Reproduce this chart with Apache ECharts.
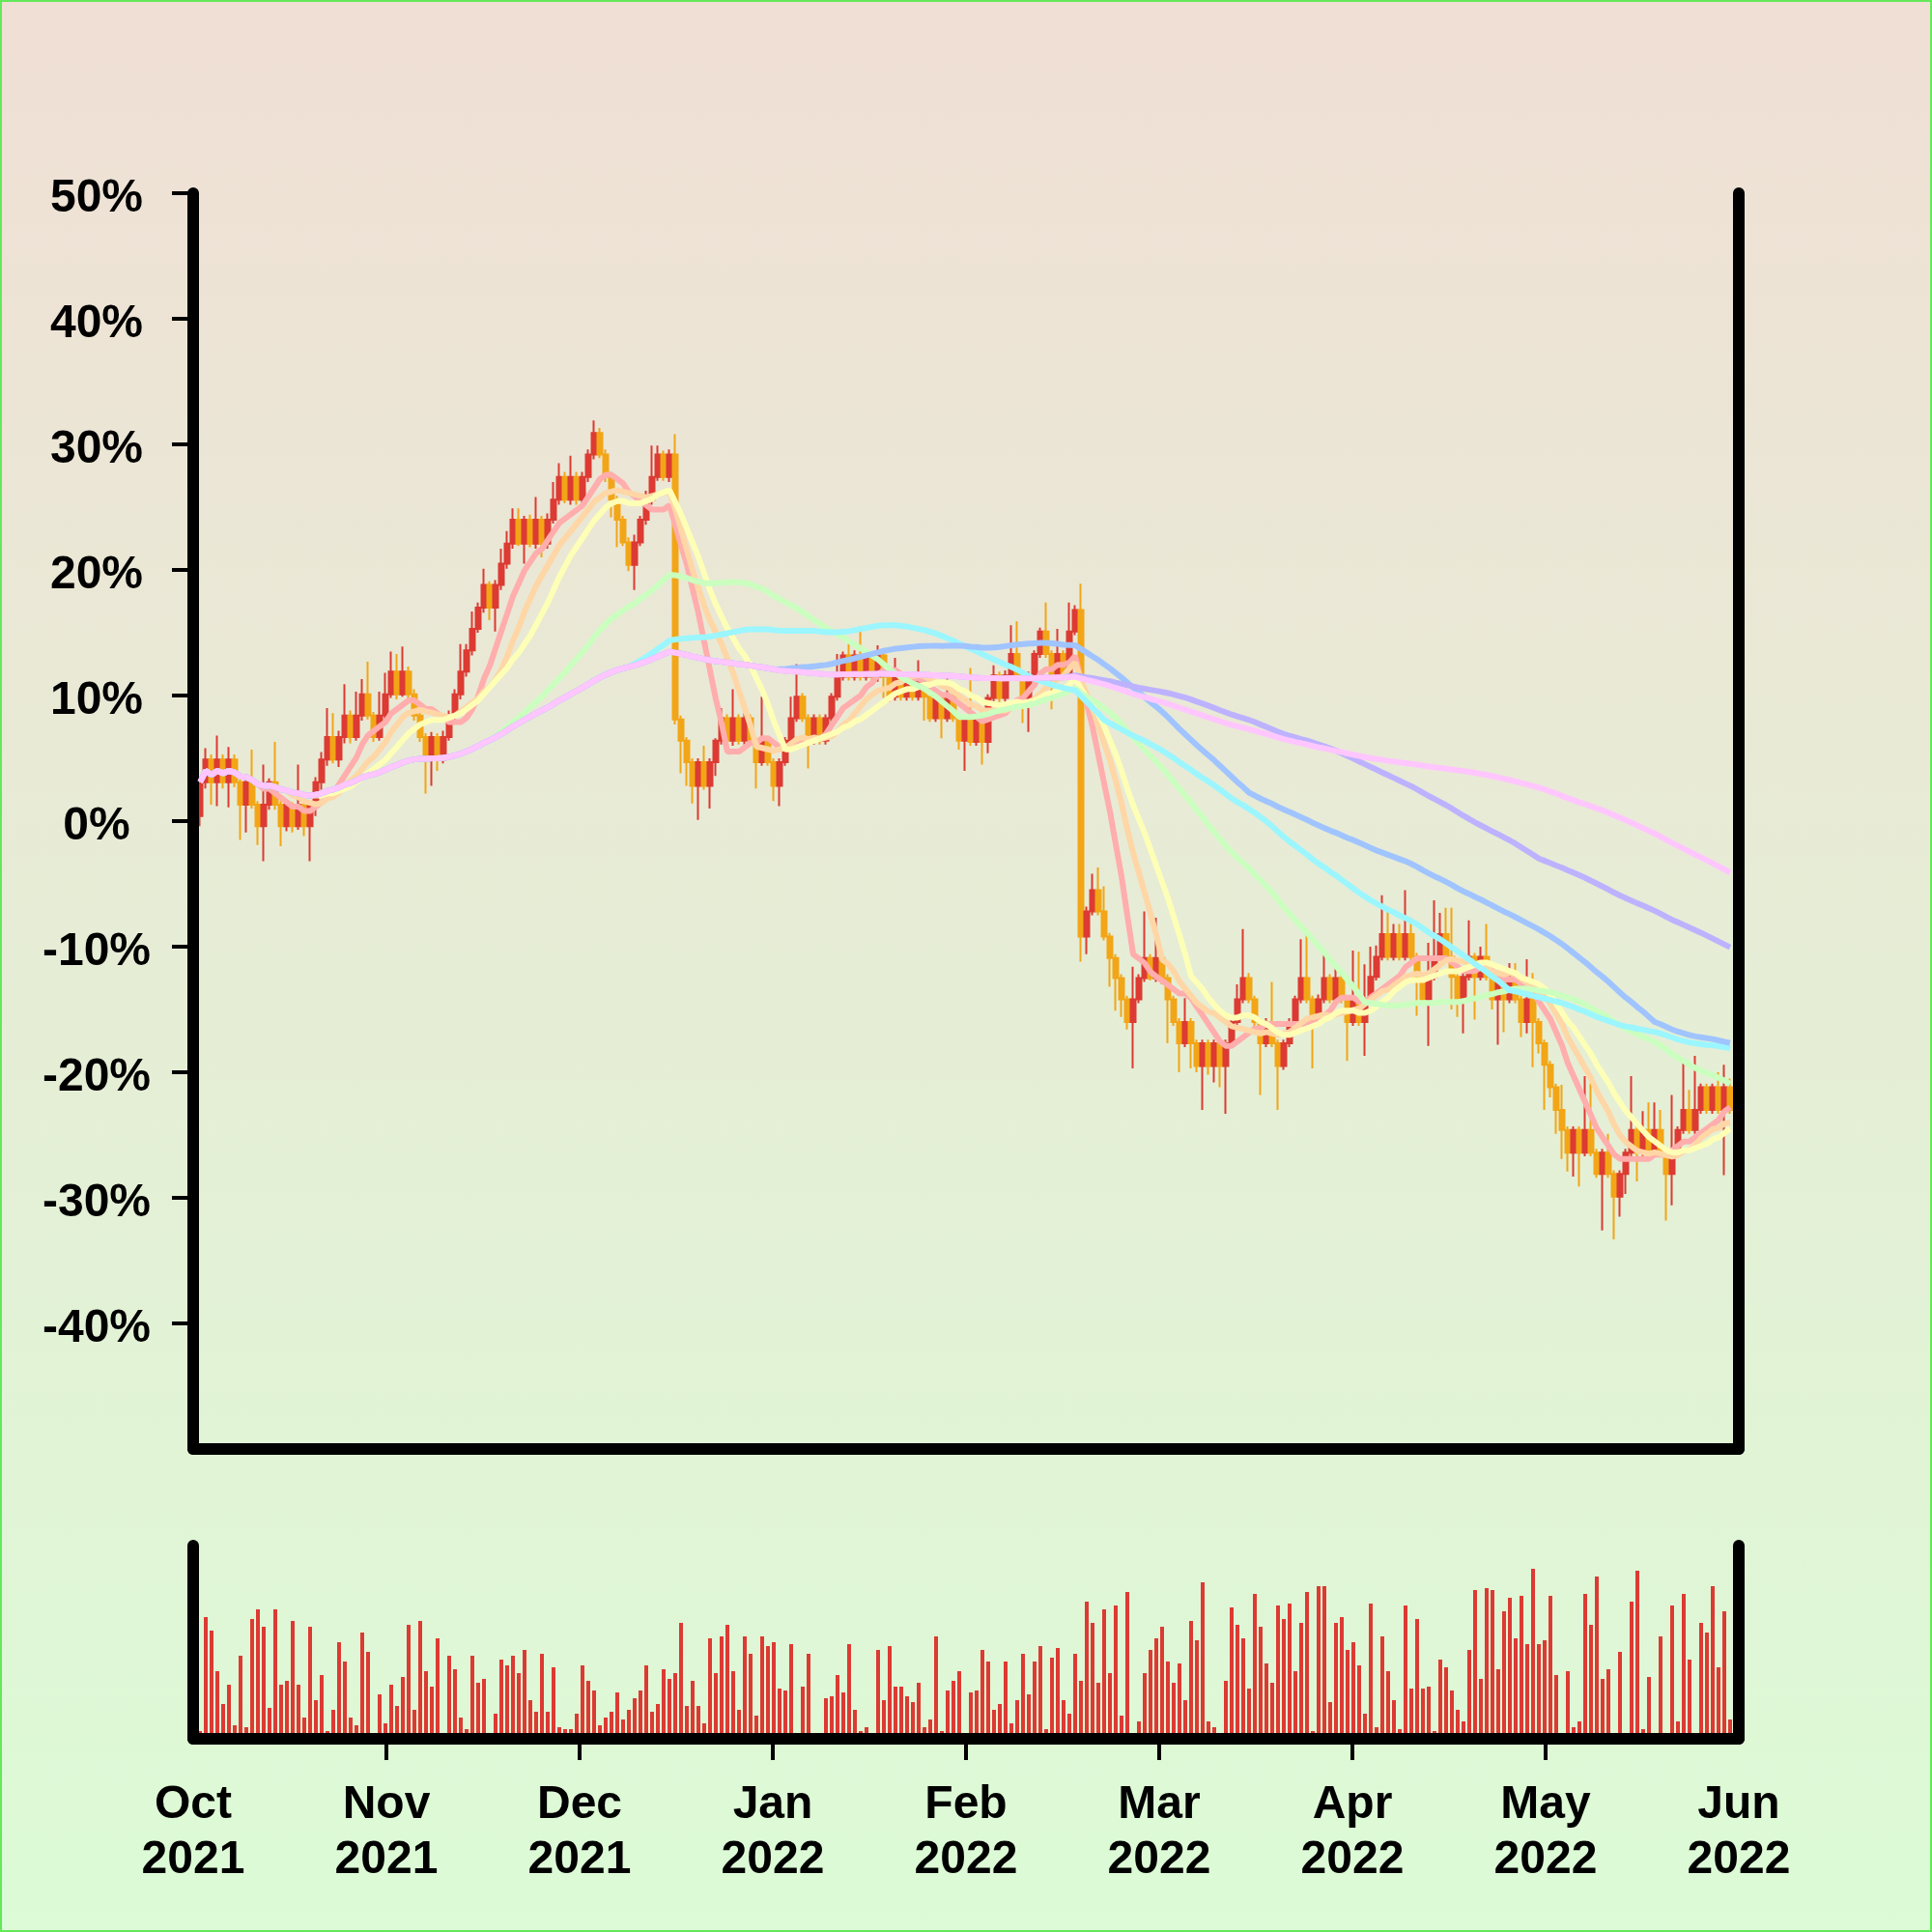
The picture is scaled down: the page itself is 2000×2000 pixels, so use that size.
<!DOCTYPE html>
<html><head><meta charset="utf-8">
<script src="https://cdn.jsdelivr.net/npm/echarts@6/dist/echarts.min.js"></script>
<style>
html,body{margin:0;padding:0;background:#fff;}
#wrap{position:relative;width:2000px;height:2000px;}
#c{width:2000px;height:2000px;}
#frame{position:absolute;left:0;top:0;width:2000px;height:2000px;box-sizing:border-box;border:2px solid #63e85a;pointer-events:none;}
</style>
</head><body>
<div id="wrap"><div id="c"></div><div id="frame"></div></div>
<script>
// ---- data (percent change) ----
const monthLabels = ['Oct\n2021','Nov\n2021','Dec\n2021','Jan\n2022','Feb\n2022','Mar\n2022','Apr\n2022','May\n2022','Jun\n2022'];
const monthTickValues = [0,1,2,3,4,5,6,7,8];
const innerMonthTicks = [1,2,3,4,5,6,7];
const yTicks = [-40,-30,-20,-10,0,10,20,30,40,50];

const opens = [
0.4,3.1,4.9,3.1,4.9,3.1,4.9,3.1,1.3,3.1,
1.3,-0.4,1.3,3.1,1.3,-0.4,1.3,-0.4,1.3,-0.4,
1.3,3.1,4.9,6.7,4.9,6.7,8.4,6.7,8.4,10.1,
8.4,6.7,8.4,10.1,11.9,10.1,11.9,10.1,8.4,6.7,
4.9,6.7,4.9,6.7,8.4,10.1,11.9,13.6,15.3,17.0,
18.8,17.0,18.8,20.5,22.1,24.0,22.1,24.0,22.1,24.0,
22.1,24.0,25.6,27.4,25.6,27.4,25.6,27.4,29.2,30.9,
29.2,27.4,25.6,24.0,22.2,20.4,22.2,24.0,25.6,27.4,
29.2,27.4,29.2,8.1,6.4,4.7,2.8,4.7,2.8,4.7,
6.4,8.2,6.4,8.2,6.4,8.2,6.4,4.7,6.4,4.7,
2.8,4.7,6.4,8.2,9.9,8.2,6.4,8.2,6.4,8.2,
9.9,11.5,13.2,11.5,13.2,11.5,13.2,11.5,13.2,11.5,
9.9,11.5,9.9,11.5,9.9,11.5,9.9,8.2,9.9,8.2,
9.9,8.2,6.4,8.0,6.3,8.0,6.3,9.8,11.6,9.8,
11.6,13.3,11.6,9.8,11.6,13.3,15.1,13.3,11.6,13.3,
11.6,15.1,16.8,-9.2,-7.2,-5.5,-7.2,-9.2,-10.9,-12.5,
-14.2,-16.0,-14.2,-12.5,-10.9,-12.5,-10.9,-12.5,-14.2,-16.0,
-17.7,-16.0,-17.7,-19.5,-17.7,-19.5,-17.7,-19.5,-17.7,-16.0,
-14.2,-12.5,-14.2,-16.0,-17.7,-16.0,-17.7,-19.5,-17.7,-16.0,
-14.2,-12.5,-14.2,-16.0,-14.2,-12.5,-14.2,-12.5,-14.2,-16.0,
-14.2,-16.0,-14.2,-12.4,-10.8,-9.0,-10.8,-9.0,-10.8,-9.0,
-10.8,-12.4,-14.2,-12.4,-10.8,-9.0,-10.8,-12.4,-14.2,-12.4,
-10.8,-12.4,-10.8,-12.4,-14.2,-12.4,-14.2,-12.4,-14.2,-16.0,
-14.2,-16.0,-17.7,-19.4,-21.2,-23.0,-24.6,-26.4,-24.6,-26.4,
-24.6,-26.4,-28.1,-26.4,-28.1,-29.9,-28.1,-26.4,-24.6,-26.4,
-24.6,-26.4,-24.6,-26.4,-28.1,-26.4,-24.6,-23.0,-24.6,-23.0,
-21.2,-23.0,-21.2,-23.0,-21.2
];
const closes = [
3.1,4.9,3.1,4.9,3.1,4.9,3.1,1.3,3.1,1.3,
-0.4,1.3,3.1,1.3,-0.4,1.3,-0.4,1.3,-0.4,1.3,
3.1,4.9,6.7,4.9,6.7,8.4,6.7,8.4,10.1,8.4,
6.7,8.4,10.1,11.9,10.1,11.9,10.1,8.4,6.7,4.9,
6.7,4.9,6.7,8.4,10.1,11.9,13.6,15.3,17.0,18.8,
17.0,18.8,20.5,22.1,24.0,22.1,24.0,22.1,24.0,22.1,
24.0,25.6,27.4,25.6,27.4,25.6,27.4,29.2,30.9,29.2,
27.4,25.6,24.0,22.2,20.4,22.2,24.0,25.6,27.4,29.2,
27.4,29.2,8.1,6.4,4.7,2.8,4.7,2.8,4.7,6.4,
8.2,6.4,8.2,6.4,8.2,6.4,4.7,6.4,4.7,2.8,
4.7,6.4,8.2,9.9,8.2,6.4,8.2,6.4,8.2,9.9,
11.5,13.2,11.5,13.2,11.5,13.2,11.5,13.2,11.5,9.9,
11.5,9.9,11.5,9.9,11.5,9.9,8.2,9.9,8.2,9.9,
8.2,6.4,8.0,6.3,8.0,6.3,9.8,11.6,9.8,11.6,
13.3,11.6,9.8,11.6,13.3,15.1,13.3,11.6,13.3,11.6,
15.1,16.8,-9.2,-7.2,-5.5,-7.2,-9.2,-10.9,-12.5,-14.2,
-16.0,-14.2,-12.5,-10.9,-12.5,-10.9,-12.5,-14.2,-16.0,-17.7,
-16.0,-17.7,-19.5,-17.7,-19.5,-17.7,-19.5,-17.7,-16.0,-14.2,
-12.5,-14.2,-16.0,-17.7,-16.0,-17.7,-19.5,-17.7,-16.0,-14.2,
-12.5,-14.2,-16.0,-14.2,-12.5,-14.2,-12.5,-14.2,-16.0,-14.2,
-16.0,-14.2,-12.4,-10.8,-9.0,-10.8,-9.0,-10.8,-9.0,-10.8,
-12.4,-14.2,-12.4,-10.8,-9.0,-10.8,-12.4,-14.2,-12.4,-10.8,
-12.4,-10.8,-12.4,-14.2,-12.4,-14.2,-12.4,-14.2,-16.0,-14.2,
-16.0,-17.7,-19.4,-21.2,-23.0,-24.6,-26.4,-24.6,-26.4,-24.6,
-26.4,-28.1,-26.4,-28.1,-29.9,-28.1,-26.4,-24.6,-26.4,-24.6,
-26.4,-24.6,-26.4,-28.1,-26.4,-24.6,-23.0,-24.6,-23.0,-21.2,
-23.0,-21.2,-23.0,-21.2,-23.0
];
const lows = [
-0.4,2.6,1.3,1.2,2.6,1.1,2.7,-1.5,-0.9,1.0,
-1.9,-3.2,0.9,0.9,-2.0,-0.8,-0.9,-0.7,-1.2,-3.2,
0.4,2.5,4.4,4.6,4.3,6.2,6.2,6.4,8.0,8.1,
6.3,6.4,8.1,9.8,9.7,9.9,9.6,8.0,6.3,2.2,
2.8,4.0,4.6,6.4,8.1,9.7,11.5,13.2,15.0,16.6,
16.0,15.1,18.4,20.1,21.7,21.9,20.5,21.8,21.7,21.0,
21.7,23.7,25.2,25.3,25.2,25.2,25.3,27.0,28.8,28.9,
27.0,24.2,21.8,21.9,19.9,18.4,21.9,23.6,25.2,27.1,
27.1,27.0,7.7,3.8,2.8,1.4,0.1,2.5,1.0,3.6,
6.1,6.1,6.0,6.1,6.1,6.0,2.6,4.4,4.4,1.6,
1.2,4.4,6.1,7.9,7.9,4.2,6.1,6.1,6.1,7.9,
9.6,11.2,11.2,11.2,11.2,11.2,11.2,11.1,9.8,9.5,
9.6,9.6,9.6,9.6,9.6,8.0,7.9,7.9,6.6,7.9,
7.9,5.7,4.0,6.0,6.0,4.5,5.4,9.5,9.4,9.5,
11.3,11.3,7.8,7.1,11.3,13.0,13.0,8.9,11.3,11.3,
11.3,14.8,-11.2,-10.6,-7.5,-7.5,-9.5,-13.2,-15.1,-15.6,
-16.6,-19.7,-14.5,-12.8,-12.7,-12.8,-13.0,-17.7,-16.3,-20.0,
-18.0,-19.7,-20.0,-23.0,-20.2,-20.8,-21.2,-23.3,-18.0,-16.3,
-14.5,-14.5,-16.3,-21.8,-18.0,-18.0,-23.0,-19.8,-18.0,-16.3,
-14.5,-14.5,-19.7,-16.3,-14.5,-14.5,-14.5,-14.5,-19.1,-16.3,
-16.3,-18.7,-14.5,-12.7,-11.1,-11.1,-11.1,-11.1,-11.1,-11.1,
-15.5,-14.5,-17.9,-12.7,-11.1,-11.1,-15.0,-15.6,-16.9,-12.7,
-15.8,-12.7,-12.7,-15.0,-17.8,-16.8,-14.5,-14.5,-17.2,-16.9,
-19.6,-18.5,-23.0,-22.0,-24.9,-26.9,-27.9,-28.3,-29.1,-26.7,
-26.7,-28.4,-32.6,-28.4,-33.3,-31.5,-29.7,-26.7,-28.7,-26.7,
-26.7,-26.7,-26.7,-31.8,-30.6,-26.7,-24.9,-24.9,-24.9,-23.3,
-23.3,-23.3,-23.3,-28.2,-23.3
];
const highs = [
3.4,5.8,5.3,6.8,5.3,5.9,5.3,3.5,3.4,5.7,
1.6,4.5,3.4,6.3,1.6,1.6,1.5,4.5,1.8,1.6,
3.5,5.5,9.0,8.6,7.2,10.9,8.8,10.3,11.3,12.7,
8.7,10.3,11.8,13.5,13.3,13.9,12.3,10.5,8.8,7.0,
7.1,7.0,7.2,8.8,10.5,14.1,14.1,16.7,17.4,20.1,
19.1,19.2,21.7,23.1,24.9,24.9,24.3,24.4,25.8,24.3,
24.5,27.0,28.5,27.8,29.1,27.8,27.8,29.6,31.9,31.3,
29.6,27.8,25.9,24.3,22.6,22.8,24.3,26.3,29.9,29.9,
29.5,29.6,30.8,8.4,6.7,5.0,5.0,6.0,5.0,6.6,
9.0,8.5,10.5,8.5,8.6,8.5,6.7,9.9,6.7,5.0,
5.0,6.7,9.9,12.5,10.2,8.5,8.5,8.5,8.5,10.2,
13.3,13.5,14.1,13.6,15.5,13.6,13.5,14.0,13.5,11.8,
13.0,11.8,11.8,11.9,12.8,11.8,10.3,10.3,10.2,11.6,
10.2,8.5,8.3,12.2,8.3,8.3,10.1,12.4,11.9,12.0,
15.6,15.9,11.9,11.9,13.6,15.4,17.4,13.6,15.3,13.6,
17.4,17.2,18.9,-6.8,-4.2,-3.7,-5.2,-8.9,-10.6,-12.2,
-13.9,-11.6,-12.2,-7.2,-10.6,-7.7,-10.3,-12.2,-13.9,-15.7,
-14.1,-15.7,-17.4,-17.4,-17.4,-17.4,-17.4,-17.4,-15.7,-13.0,
-8.6,-12.1,-13.9,-15.7,-15.7,-12.8,-17.4,-17.4,-15.7,-13.9,
-9.4,-8.9,-13.9,-13.8,-10.7,-12.2,-11.6,-12.2,-13.9,-10.3,
-10.4,-11.4,-10.0,-9.9,-5.9,-7.0,-8.2,-8.2,-5.5,-7.7,
-10.5,-12.1,-9.7,-6.3,-7.3,-6.9,-6.9,-12.1,-12.1,-7.9,
-10.5,-10.0,-8.2,-12.1,-12.1,-12.1,-11.3,-11.3,-13.9,-11.0,
-12.1,-15.7,-17.4,-19.1,-20.9,-21.0,-24.3,-24.3,-24.3,-20.3,
-20.9,-26.1,-26.1,-24.9,-27.8,-27.8,-26.1,-20.3,-24.3,-23.1,
-22.4,-22.4,-23.0,-26.1,-21.8,-24.3,-19.2,-21.4,-18.7,-20.9,
-20.9,-20.9,-20.0,-19.4,-20.5
];
const volumes = [
4,63,56,35,18,28,7,43,6,62,
67,58,16,67,28,30,61,28,11,58,
20,33,4,15,50,40,11,7,55,45,
0,23,8,28,17,32,59,15,61,35,
27,52,0,43,36,11,5,43,29,31,
0,13,41,38,43,34,46,20,14,44,
14,37,6,5,5,13,38,30,25,7,
11,14,24,10,15,21,25,38,14,18,
36,31,34,60,17,30,17,8,52,34,
53,59,35,15,53,44,12,53,48,50,
26,25,49,0,27,44,0,0,21,22,
33,24,49,15,4,6,0,46,20,48,
27,27,22,19,29,6,10,53,4,25,
30,35,0,24,25,46,40,15,18,40,
8,20,44,23,40,48,5,42,47,20,
13,44,30,71,60,29,67,34,69,12,
76,0,9,34,46,52,58,40,29,39,
20,61,51,81,9,6,0,30,68,59,
52,26,75,58,39,29,69,62,70,35,
60,76,4,79,79,19,60,63,46,50,
38,13,70,6,53,35,20,5,69,26,
62,26,27,4,41,37,25,15,9,46,
77,31,78,77,36,66,73,52,74,49,
88,49,51,74,33,0,35,6,9,75,
59,84,31,36,0,45,0,71,87,5,
32,3,53,0,69,9,75,41,0,60,
55,79,37,66,10
];
const maPeriods = [10, 15, 20, 50, 75, 100, 150, 200];
const maColors = ['#ffadad','#ffd6a5','#fdffb6','#caffbf','#9bf6ff','#a0c4ff','#bdb2ff','#ffc6ff'];

// ---- build ----
const RED = '#dc3a33', ORANGE = '#f2a516';
const N = closes.length;
const STEP = 0.03;            // one session in month units
const xOf = i => (i + 1 + 1/6) * STEP;

const candleData = [], volData = [];
for (let i = 0; i < N; i++) {
  candleData.push([xOf(i), opens[i], closes[i], lows[i], highs[i]]);
  volData.push([xOf(i), volumes[i]]);
}
function movingAverage(vals, p) {
  const out = []; let s = 0;
  for (let i = 0; i < vals.length; i++) {
    s += vals[i]; if (i >= p) s -= vals[i - p];
    out.push([xOf(i), s / Math.min(i + 1, p)]);
  }
  return out;
}

const FONT = 'Liberation Sans';
const axisLineStyle = { color: '#000', width: 12, cap: 'round' };
const labelStyle = { color: '#000', fontFamily: FONT, fontWeight: 'bold', fontSize: 48 };

const series = [
  { type: 'candlestick', xAxisIndex: 0, yAxisIndex: 0, data: candleData, barWidth: 5,
    itemStyle: { color: RED, color0: ORANGE, borderColor: RED, borderColor0: ORANGE, borderWidth: 2 }, z: 2 },
  { type: 'bar', xAxisIndex: 1, yAxisIndex: 2, data: volData, barWidth: 4,
    itemStyle: { color: RED }, z: 2 }
];
maPeriods.forEach((p, j) => {
  series.push({ type: 'line', xAxisIndex: 0, yAxisIndex: 0, data: movingAverage(closes, p),
    showSymbol: false, symbol: 'none', lineStyle: { color: maColors[j], width: 6 }, z: 3 + j });
});

const option = {
  animation: false,
  backgroundColor: { type: 'linear', x: 0, y: 0, x2: 0, y2: 1,
    colorStops: [{ offset: 0, color: '#f0dfd5' }, { offset: 1, color: '#dcfbd6' }] },
  grid: [
    { left: 200, top: 200, width: 1600, height: 1300, outerBoundsMode: 'none' },
    { left: 200, top: 1600, width: 1600, height: 200, outerBoundsMode: 'none' }
  ],
  xAxis: [
    { type: 'value', gridIndex: 0, min: 0, max: 8, interval: 1, z: 10,
      axisLine: { show: true, onZero: false, lineStyle: axisLineStyle },
      axisTick: { show: false }, axisLabel: { show: false }, splitLine: { show: false } },
    { type: 'value', gridIndex: 1, min: 0, max: 8, interval: 1, z: 10,
      axisLine: { show: true, onZero: false, lineStyle: axisLineStyle },
      axisTick: { show: true, customValues: innerMonthTicks, length: 22, lineStyle: { color: '#000', width: 4 } },
      axisLabel: Object.assign({ customValues: monthTickValues, margin: 40, lineHeight: 57,
        formatter: v => monthLabels[Math.round(v)] }, labelStyle),
      splitLine: { show: false } }
  ],
  yAxis: [
    { type: 'value', gridIndex: 0, position: 'left', min: -50, max: 50, interval: 10, z: 10,
      axisLine: { show: true, onZero: false, lineStyle: axisLineStyle },
      axisTick: { show: true, customValues: yTicks, length: 22, lineStyle: { color: '#000', width: 4 } },
      axisLabel: Object.assign({ customValues: yTicks, margin: 100, align: 'center',
        formatter: v => '{p|' + v + '%}',
        rich: { p: { fontFamily: FONT, fontWeight: 'bold', fontSize: 48, color: '#000', padding: [12, 0, 0, 0] } }
      }, labelStyle),
      splitLine: { show: false } },
    { type: 'value', gridIndex: 0, position: 'right', min: -50, max: 50, z: 10,
      axisLine: { show: true, onZero: false, lineStyle: axisLineStyle },
      axisTick: { show: false }, axisLabel: { show: false }, splitLine: { show: false } },
    { type: 'value', gridIndex: 1, position: 'left', min: 0, max: 100, z: 10,
      axisLine: { show: true, onZero: false, lineStyle: axisLineStyle },
      axisTick: { show: false }, axisLabel: { show: false }, splitLine: { show: false } },
    { type: 'value', gridIndex: 1, position: 'right', min: 0, max: 100, z: 10,
      axisLine: { show: true, onZero: false, lineStyle: axisLineStyle },
      axisTick: { show: false }, axisLabel: { show: false }, splitLine: { show: false } }
  ],
  series: series
};
const chart = echarts.init(document.getElementById('c'), null, { renderer: 'canvas' });
chart.setOption(option);
</script>
</body></html>
